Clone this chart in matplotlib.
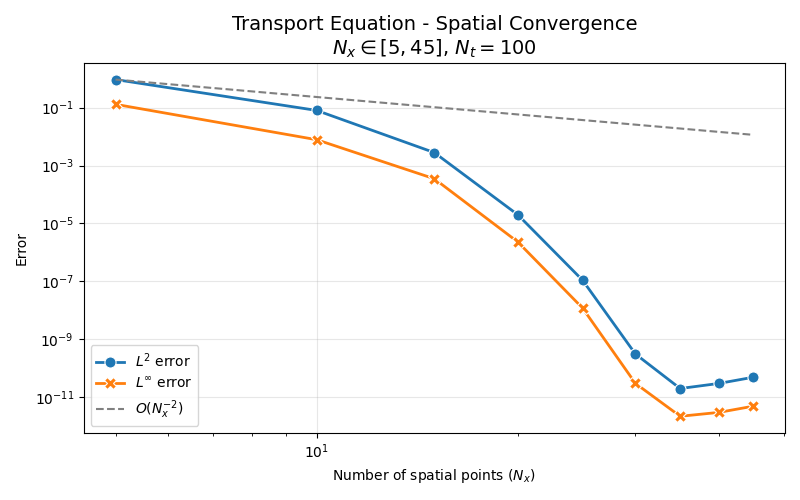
import numpy as np
import matplotlib
matplotlib.use("Agg")
import matplotlib.pyplot as plt

# Grid sizes and measured errors
nx_values = [5, 10, 15, 20, 25, 30, 35, 40, 45]
l2_error = [0.93, 0.08, 2.8e-3, 2.0e-5, 1.1e-7, 3.1e-10, 2.0e-11, 3.0e-11, 4.9e-11]
linf_error = [0.13, 7.8e-3, 3.5e-4, 2.3e-6, 1.2e-8, 3.0e-11, 2.2e-12, 3.0e-12, 4.9e-12]
# O(Nx^-2) reference anchored at first L2 point
ref_error = [0.93, 0.2325, 0.1033, 0.0581, 0.0372, 0.0258, 0.0190, 0.0145, 0.0115]

fig, ax = plt.subplots(figsize=(8, 5), dpi=100)

ax.plot(nx_values, l2_error, color="#1f77b4", marker="o", lw=2, ms=8,
        mec="white", mew=0.8, label=r"$L^2$ error")
ax.plot(nx_values, linf_error, color="#ff7f0e", marker="X", lw=2, ms=8,
        mec="white", mew=0.8, label=r"$L^\infty$ error")
ax.plot(nx_values, ref_error, color="gray", ls="--", lw=1.5,
        label=r"$O(N_x^{-2})$")

ax.set_xscale("log")
ax.set_yscale("log")
ax.set_xlabel(r"Number of spatial points ($N_x$)")
ax.set_ylabel("Error")
ax.set_title("Transport Equation - Spatial Convergence\n"
             r"$N_x \in [5, 45]$, $N_t = 100$", fontsize=14)
ax.grid(True, alpha=0.3)
ax.legend(loc="lower left")

plt.tight_layout()
plt.savefig("out.png", dpi=100)
